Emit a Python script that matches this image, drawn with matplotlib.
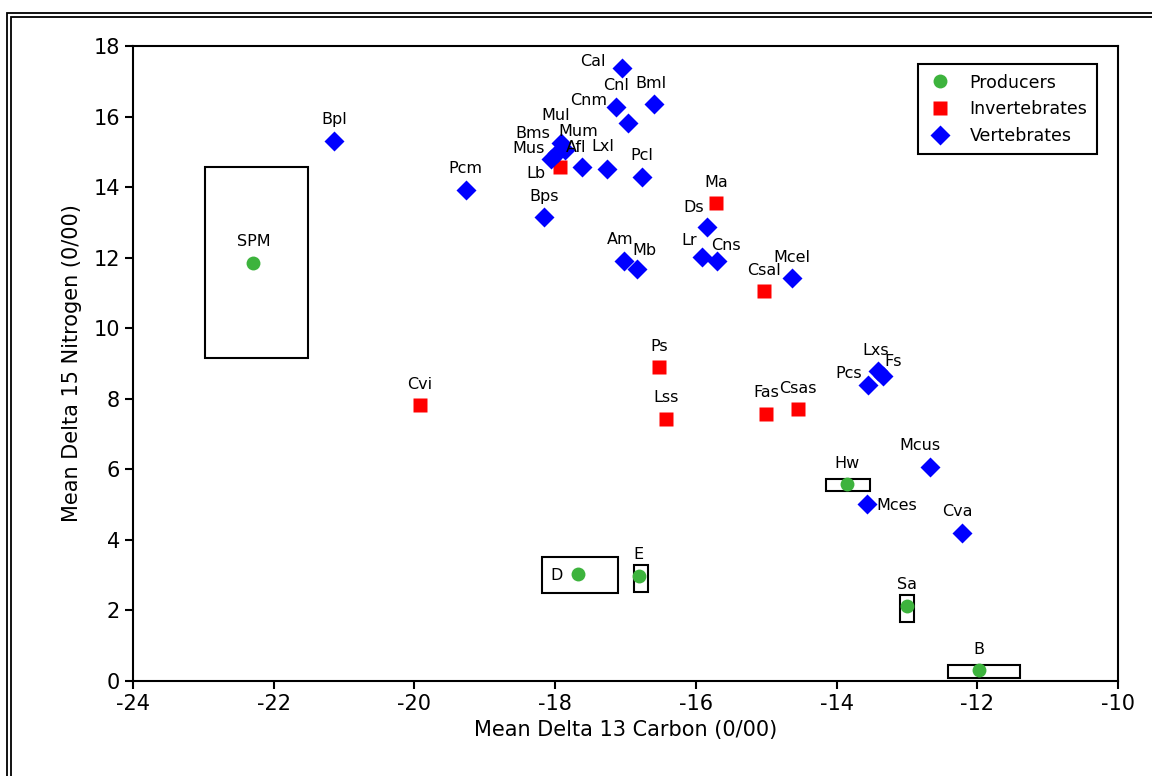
import matplotlib.pyplot as plt
from matplotlib.patches import Rectangle

plt.rcParams['axes.unicode_minus'] = False

# Producers: mean values and range boxes (x_min, x_max, y_min, y_max)
prod_names = ['SPM', 'D', 'E', 'Hw', 'Sa', 'B']
prod_x = [-22.29, -17.68, -16.81, -13.85, -13.00, -11.98]
prod_y = [11.85, 3.03, 2.98, 5.58, 2.13, 0.31]
prod_xmin = [-22.98, -18.19, -16.88, -14.15, -13.10, -12.42]
prod_xmax = [-21.51, -17.11, -16.68, -13.53, -12.90, -11.39]
prod_ymin = [9.16, 2.49, 2.52, 5.39, 1.67, 0.09]
prod_ymax = [14.57, 3.51, 3.29, 5.73, 2.44, 0.45]

# Invertebrates
inv_names = ['Lb', 'Ma', 'Csal', 'Cvi', 'Ps', 'Lss', 'Fas', 'Csas']
inv_x = [-17.93, -15.71, -15.03, -19.92, -16.52, -16.42, -15.00, -14.55]
inv_y = [14.57, 13.55, 11.05, 7.82, 8.90, 7.43, 7.57, 7.71]

# Vertebrates
vert_names = ['Bpl', 'Pcm', 'Bps', 'Cal', 'Cnl', 'Bml', 'Cnm', 'Mul', 'Mum',
              'Bms', 'Mus', 'Afl', 'Lxl', 'Pcl', 'Ds', 'Lr', 'Cns', 'Am', 'Mb',
              'Mcel', 'Lxs', 'Fs', 'Pcs', 'Mcus', 'Mces', 'Cva']
vert_x = [-21.14, -19.27, -18.16, -17.05, -17.14, -16.60, -16.96, -17.92, -17.86,
          -17.97, -18.06, -17.62, -17.26, -16.77, -15.84, -15.91, -15.70, -17.02, -16.84,
          -14.63, -13.41, -13.34, -13.55, -12.67, -13.57, -12.22]
vert_y = [15.31, 13.92, 13.15, 17.37, 16.27, 16.35, 15.82, 15.25, 15.05,
          14.97, 14.80, 14.57, 14.51, 14.29, 12.87, 12.02, 11.90, 11.90, 11.68,
          11.42, 8.79, 8.64, 8.39, 6.07, 5.02, 4.19]

# label offsets in pixels (default: centred above the point)
label_off = {
    'D': (-21, -1, 'center'), 'Lb': (-24, -6, 'center'), 'Cal': (-29, 7, 'center'),
    'Cnl': (0, 22, 'center'), 'Bml': (-3, 21, 'center'), 'Cnm': (-40, 22, 'center'),
    'Mul': (-5, 28, 'center'), 'Bms': (-24, 19, 'center'), 'Mum': (13, 19, 'center'),
    'Mus': (-22, 10, 'center'), 'Afl': (-6, 20, 'center'), 'Lxl': (-4, 23, 'center'),
    'Ds': (-13, 19, 'center'), 'Lr': (-13, 16, 'center'), 'Cns': (9, 16, 'center'),
    'Am': (-4, 22, 'center'), 'Mb': (8, 18, 'center'), 'Fs': (10, 15, 'center'),
    'Pcs': (-20, 12, 'center'), 'Mcus': (-10, 21, 'center'), 'Mces': (10, -2, 'left'),
    'Cva': (-4, 22, 'center'), 'Lxs': (-2, 20, 'center'),
}

GREEN = '#3db33d'
RED = '#ff0000'
BLUE = '#0000ff'

fig = plt.figure(figsize=(11.52, 7.76), dpi=100)
ax = fig.add_axes([0.1155, 0.1224, 0.855, 0.8183])

# range boxes for producers
for i in range(len(prod_names)):
    ax.add_patch(Rectangle((prod_xmin[i], prod_ymin[i]),
                           prod_xmax[i] - prod_xmin[i], prod_ymax[i] - prod_ymin[i],
                           fill=False, edgecolor='black', linewidth=1.5, zorder=2))

ax.plot(prod_x, prod_y, 'o', color=GREEN, ms=10, mec='none', label='Producers', zorder=3)
ax.plot(inv_x, inv_y, 's', color=RED, ms=10, mec='none', label='Invertebrates', zorder=3)
ax.plot(vert_x, vert_y, 'D', color=BLUE, ms=10, mec='none', label='Vertebrates', zorder=3)

for names, xs, ys in [(prod_names, prod_x, prod_y), (inv_names, inv_x, inv_y),
                      (vert_names, vert_x, vert_y)]:
    for n, x, y in zip(names, xs, ys):
        dx, dy, ha = label_off.get(n, (0, 21, 'center'))
        ax.annotate(n, (x, y), xytext=(dx, dy), textcoords='offset pixels',
                    ha=ha, va='center', fontsize=11.5, zorder=4)

ax.set_xlim(-24, -10)
ax.set_ylim(0, 18)
ax.set_xticks(range(-24, -9, 2))
ax.set_yticks(range(0, 19, 2))
ax.tick_params(direction='out', length=6, width=1.5, labelsize=15)
for s in ax.spines.values():
    s.set_linewidth(1.5)
ax.set_xlabel('Mean Delta 13 Carbon (0/00)', fontsize=15, labelpad=4)
ax.set_ylabel('Mean Delta 15 Nitrogen (0/00)', fontsize=15, labelpad=8)

leg = ax.legend(loc='upper right', bbox_to_anchor=(0.9787, 0.9717), fontsize=12.5,
                fancybox=False, framealpha=1, edgecolor='black',
                handlelength=1.4, handletextpad=1.0, borderpad=0.55,
                labelspacing=0.5, borderaxespad=0.0)
leg.get_frame().set_linewidth(1.5)

# double border around the figure (cut off at right and bottom)
W, H = 1152.0, 776.0
for off in (7, 11):
    fig.add_artist(Rectangle((off / W, -0.1), 1.2, 1.1 - (off + 6) / H,
                             transform=fig.transFigure, fill=False,
                             edgecolor='black', linewidth=1.3, clip_on=False))

fig.savefig('out.png', dpi=100)
